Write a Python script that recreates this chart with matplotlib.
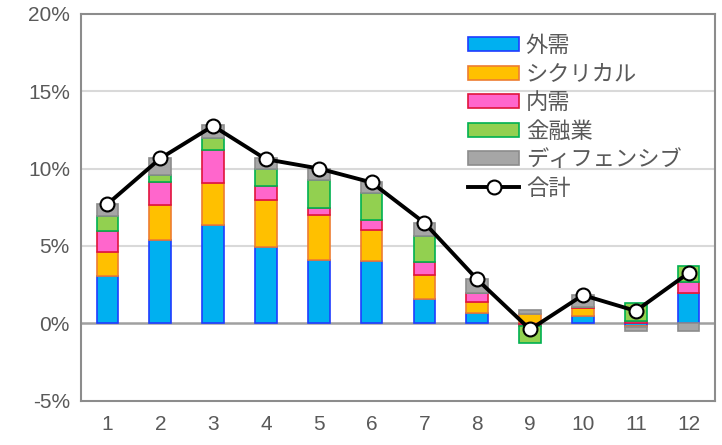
import matplotlib
matplotlib.use("Agg")
import matplotlib.pyplot as plt
import numpy as np

plt.rcParams['font.family'] = ['Liberation Sans', 'Noto Sans CJK JP', 'DejaVu Sans']

categories = ['1', '2', '3', '4', '5', '6', '7', '8', '9', '10', '11', '12']
series_names = ['外需', 'シクリカル', '内需', '金融業', 'ディフェンシブ']
gaiju = [3.06, 5.35, 6.38, 4.96, 4.07, 4.03, 1.55, 0.65, -0.05, 0.47, -0.15, 1.95]
cyclical = [1.55, 2.26, 2.70, 3.02, 2.92, 1.97, 1.55, 0.71, 0.60, 0.50, -0.12, 0.00]
naiju = [1.34, 1.49, 2.09, 0.86, 0.49, 0.70, 0.87, 0.60, -0.15, 0.06, 0.12, 0.71]
kinyu = [0.99, 0.47, 0.82, 1.16, 1.75, 1.73, 1.66, 0.00, -1.07, 0.00, 1.17, 1.01]
defensive = [0.74, 1.08, 0.81, 0.65, 0.75, 0.71, 0.86, 0.87, 0.25, 0.80, -0.25, -0.47]
total = [7.70, 10.65, 12.75, 10.60, 10.00, 9.10, 6.49, 2.83, -0.40, 1.82, 0.80, 3.25]
total_name = '合計'
yticks = [-5, 0, 5, 10, 15, 20]

fills = ['#00B0F0', '#FFC000', '#FF66CC', '#92D050', '#A6A6A6']
edges = ['#1F3CFF', '#ED7D31', '#E0143C', '#00B050', '#8C8C8C']

fig = plt.figure(figsize=(7.22, 4.45), dpi=100)
ax = fig.add_axes([81/722, 1-400.7/445, (715-81)/722, (400.7-13.7)/445])

x = np.arange(len(categories))
pos_bottom = np.zeros(len(categories))
neg_bottom = np.zeros(len(categories))
handles = []
for name, vals, fc, ec in zip(series_names, [gaiju, cyclical, naiju, kinyu, defensive], fills, edges):
    v = np.array(vals, dtype=float)
    bottoms = np.where(v >= 0, pos_bottom, neg_bottom)
    h = ax.bar(x, v, width=0.41, bottom=bottoms, color=fc, edgecolor=ec,
               linewidth=1.2, label=name, zorder=3)
    handles.append(h)
    pos_bottom = pos_bottom + np.where(v >= 0, v, 0)
    neg_bottom = neg_bottom + np.where(v < 0, v, 0)

ln, = ax.plot(x, total, color='black', lw=2.8, marker='o', markersize=10,
              markerfacecolor='white', markeredgecolor='black', markeredgewidth=1.5,
              label=total_name, zorder=5)

ax.set_xlim(-0.5, len(categories) - 0.5)
ax.set_ylim(-5, 20)
ax.set_yticks(yticks)
ax.set_yticklabels([f'{t}%' for t in yticks])
ax.set_xticks(x)
ax.set_xticklabels(categories)
ax.tick_params(axis='both', length=0, labelsize=15, colors='#595959')
ax.tick_params(axis='y', pad=8)
ax.tick_params(axis='x', pad=10)
for t in [5, 10, 15]:
    ax.axhline(t, color='#D9D9D9', lw=1.5, zorder=1)
ax.axhline(0, color='#A0A0A0', lw=1.8, zorder=2)
for s in ax.spines.values():
    s.set_color('#8C8C8C')
    s.set_linewidth(1.5)

leg = fig.legend(handles=handles + [ln], labels=series_names + [total_name],
                 loc='upper left', bbox_to_anchor=(468/722, 1-34/445),
                 frameon=False, handlelength=2.3, handleheight=0.6,
                 handletextpad=0.3, labelspacing=0.25, borderpad=0, borderaxespad=0,
                 prop={'family': ['Noto Sans CJK JP', 'DejaVu Sans'], 'size': 16})
for t in leg.get_texts():
    t.set_color('#595959')

fig.savefig('out.png', dpi=100)
